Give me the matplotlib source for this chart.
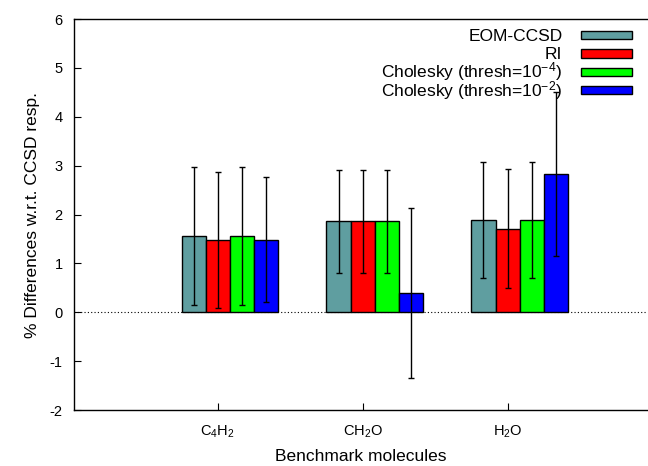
import matplotlib.pyplot as plt
from matplotlib.patches import Rectangle
import numpy as np

plt.rcParams['font.family'] = ['Liberation Sans', 'DejaVu Sans']
plt.rcParams['mathtext.fontset'] = 'custom'
plt.rcParams['mathtext.rm'] = 'Liberation Sans'
plt.rcParams['mathtext.it'] = 'Liberation Sans'
plt.rcParams['axes.unicode_minus'] = False

molecules = ['C$_4$H$_2$', 'CH$_2$O', 'H$_2$O']
series = ['EOM-CCSD', 'RI', 'Cholesky (thresh=10$^{-4}$)', 'Cholesky (thresh=10$^{-2}$)']
colors = ['#5f9ea0', '#ff0000', '#00ff00', '#0000ff']

eom = [1.57, 1.86, 1.89]
eom_err = [1.41, 1.05, 1.19]
ri = [1.48, 1.86, 1.71]
ri_err = [1.39, 1.05, 1.22]
chol4 = [1.56, 1.86, 1.89]
chol4_err = [1.41, 1.05, 1.19]
chol2 = [1.49, 0.40, 2.83]
chol2_err = [1.28, 1.74, 1.67]

values = [eom, ri, chol4, chol2]
errors = [eom_err, ri_err, chol4_err, chol2_err]

fig = plt.figure(figsize=(6.48, 4.66), dpi=100)
ax = fig.add_axes([0.114, 0.120, 0.884, 0.839])

x = np.arange(len(molecules))
w = 1 / 6
for i in range(4):
    pos = x + (i - 1) * w
    ax.bar(pos, values[i], w, color=colors[i], edgecolor='black', linewidth=1, zorder=2)
    ax.errorbar(pos, values[i], yerr=errors[i], fmt='none', ecolor='black',
                elinewidth=1, capsize=2.3, capthick=1, zorder=3)

ax.axhline(0, color='black', linestyle=(0, (1, 2)), linewidth=0.8, zorder=1)

ax.set_xlim(-0.993, 2.96)
ax.set_ylim(-2, 6)
ax.set_yticks(range(-2, 7))
ax.set_xticks(x)
ax.set_xticklabels(molecules)
ax.tick_params(axis='both', direction='in', labelsize=10.5, length=5, width=0.8)
ax.tick_params(axis='x', pad=10)
ax.tick_params(axis='y', pad=8)
ax.spines['right'].set_visible(False)
for s in ['left', 'top', 'bottom']:
    ax.spines[s].set_linewidth(1)

ax.set_xlabel('Benchmark molecules', fontsize=12.5, labelpad=6)
ax.set_ylabel('% Differences w.r.t. CCSD resp.', fontsize=12.5, labelpad=7)

# gnuplot-style key: right-aligned text, swatch on the right
for k, (lab, c) in enumerate(zip(series, colors)):
    yc = 0.959 - k * 0.047
    ax.text(0.853, yc - 0.015, lab, transform=ax.transAxes, ha='right', va='baseline',
            fontsize=12.5)
    ax.add_patch(Rectangle((0.885, yc - 0.0105), 0.089, 0.021, transform=ax.transAxes,
                           facecolor=c, edgecolor='black', linewidth=1, clip_on=False))

fig.savefig('out.png', dpi=100)
